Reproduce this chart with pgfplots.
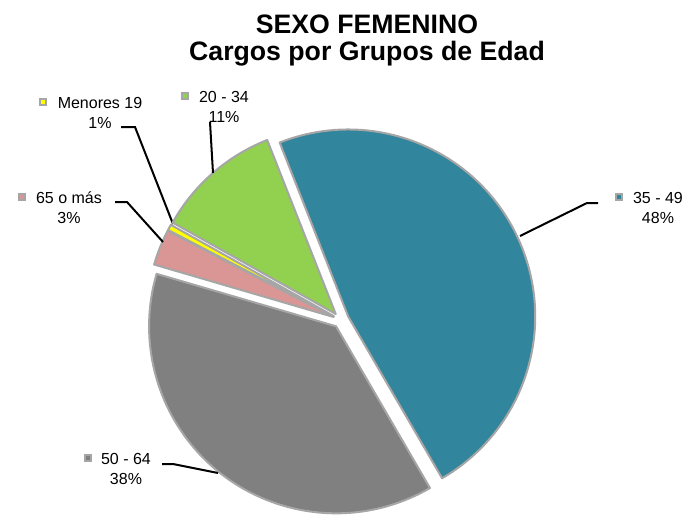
\documentclass[border=0pt]{standalone}
\usepackage{pgfplots}
\pgfplotsset{compat=1.18}
\usepackage{pgfplotstable}
\usetikzlibrary{calc}
\usepackage{fontspec}
\setmainfont{Liberation Sans}

\definecolor{pblue}{HTML}{31859C}
\definecolor{pgray}{HTML}{808080}
\definecolor{ppink}{HTML}{D99694}
\definecolor{pyellow}{HTML}{FFFF00}
\definecolor{pgreen}{HTML}{92D050}
\definecolor{pbord}{HTML}{A6A6A6}

% slices clockwise from the first slice angle; label/leader positions in px
\pgfplotstableread[col sep=comma]{
label,value,colour,tx,ty,mx,ax,ay,bx,by,cx,cy
35 - 49,47.6,pblue,658,203,619,520,236,587,203,598,203
50 - 64,37.9,pgray,126,464,88,218,473,173,464,162,464
65 o más,3.1,ppink,69,203,22,163,242,127,202,115,202
Menores 19,0.5,pyellow,100,108,43,173,224,135,127,121,127
20 - 34,10.9,pgreen,224,102,185,213,173,210,122,210,122
}\piedata

\def\P#1#2{\csname pie#1#2\endcsname}
\def\grab#1{\pgfplotstablegetelem{\i}{#1}\of\piedata
  \expandafter\xdef\csname pie#1\i\endcsname{\pgfplotsretval}}
\def\curang{111.5}
\pgfplotsforeachungrouped \i in {0,...,4}{%
  \grab{label}\grab{colour}\grab{tx}\grab{ty}\grab{mx}%
  \grab{ax}\grab{ay}\grab{bx}\grab{by}\grab{cx}\grab{cy}%
  \pgfplotstablegetelem{\i}{value}\of\piedata \let\v\pgfplotsretval
  \pgfmathsetmacro\a{\curang}%
  \pgfmathsetmacro\b{\curang-3.6*\v}%
  \pgfmathsetmacro\m{(\a+\b)/2}%
  \pgfmathtruncatemacro\p{round(\v)}%
  \pgfmathsetmacro\py{\P{ty}{\i}+20}%
  \pgfmathsetmacro\my{\P{ty}{\i}-6}%
  \expandafter\xdef\csname piesa\i\endcsname{\a}%
  \expandafter\xdef\csname pieea\i\endcsname{\b}%
  \expandafter\xdef\csname piemid\i\endcsname{\m}%
  \expandafter\xdef\csname piepct\i\endcsname{\p}%
  \expandafter\xdef\csname piepy\i\endcsname{\py}%
  \expandafter\xdef\csname piemy\i\endcsname{\my}%
  \xdef\curang{\b}%
}

\begin{document}
\begin{tikzpicture}
\begin{axis}[
  width=517.5pt,height=388.5pt,scale only axis,
  xmin=0,xmax=690,ymin=0,ymax=518,y dir=reverse,
  hide axis,clip=false
]
\pgfplotsinvokeforeach{0,...,4}{
  \filldraw[fill=\P{colour}{#1},draw=pbord,line width=1.5pt,line join=round]
    ($(axis cs:341,320)+(\P{mid}{#1}:6pt)$) -- ++(\P{sa}{#1}:140.25pt)
    arc[start angle=\P{sa}{#1},end angle=\P{ea}{#1},radius=140.25pt] -- cycle;
  \draw[line width=1.5pt] (axis cs:\P{ax}{#1},\P{ay}{#1})
    -- (axis cs:\P{bx}{#1},\P{by}{#1}) -- (axis cs:\P{cx}{#1},\P{cy}{#1});
  \filldraw[fill=\P{colour}{#1},draw=pbord,line width=1.5pt]
    ($(axis cs:\P{mx}{#1},\P{my}{#1})+(-2.6pt,-2.6pt)$) rectangle ++(5.2pt,5.2pt);
  \node[anchor=base,font=\fontsize{12}{14}\selectfont]
    at (axis cs:\P{tx}{#1},\P{ty}{#1}) {\P{label}{#1}};
  \node[anchor=base,font=\fontsize{12}{14}\selectfont]
    at (axis cs:\P{tx}{#1},\P{py}{#1}) {\P{pct}{#1}\%};
}
\node[anchor=base,font=\bfseries\fontsize{20}{24}\selectfont]
  at (axis cs:367,33) {SEXO FEMENINO};
\node[anchor=base,font=\bfseries\fontsize{20}{24}\selectfont]
  at (axis cs:367,60) {Cargos por Grupos de Edad};
\end{axis}
\pgfresetboundingbox
\path (current axis.south west) rectangle (current axis.north east);
\end{tikzpicture}
\end{document}
